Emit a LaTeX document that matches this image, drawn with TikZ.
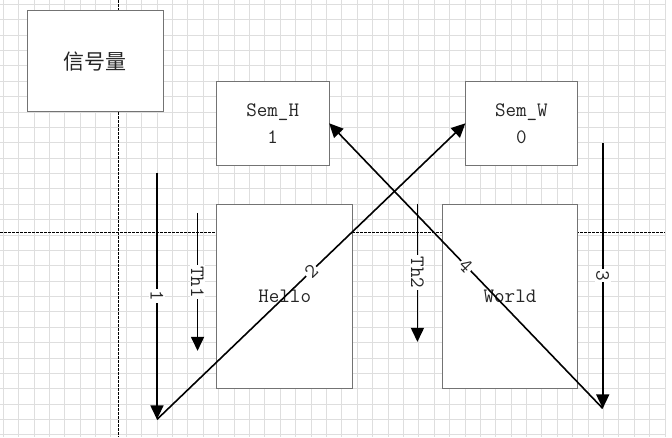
\documentclass[tikz,border=0pt]{standalone}
\usepackage{fontspec}
\newfontfamily\cjkfont{Noto Sans CJK SC}
\usepackage{tikz}
\usetikzlibrary{arrows.meta}

\begin{document}
\begin{tikzpicture}[x = 1pt, y = -1pt,
        gridline/.style = {color = black!13, line width = 0.6pt},
        guide/.style = {color = black, line width = 0.7pt, dash pattern = on 2.5pt off 1.5pt},
        box/.style = {draw = black!55, fill = white, line width = 0.9pt, inner sep = 0pt,
            outer sep = 0pt, text = black!85, align = center,
            font = \ttfamily\fontsize{20.5}{27}\selectfont},
        flow/.style = {color = black, line width = 1.6pt, -{Triangle[length = 14pt, width = 13pt]}},
        lbl/.style = {fill = white, inner sep = 1.5pt, text = black!85,
            font = \ttfamily\fontsize{20.5}{24}\selectfont}]
        \fill[white] (0, 0) rectangle (672, 437);
        \foreach \gx in {0, ..., 43}
            \draw[gridline] ({2.7 + 15.4*\gx}, 0) -- ({2.7 + 15.4*\gx}, 437);
        \foreach \gy in {0, ..., 28}
            \draw[gridline] (0, {3.9 + 15.38*\gy}) -- (665, {3.9 + 15.38*\gy});

        \draw[guide] (118.3, 0) -- (118.3, 437);
        \draw[guide] (0, 231.7) -- (665, 231.7);

        \node[box, minimum width = 136pt, minimum height = 101pt] (signal) at (95, 60.8)
            {\cjkfont\fontsize{21}{24}\selectfont 信号量};
        \node[box, minimum width = 113pt, minimum height = 84pt] (semH) at (272.5, 123) {Sem\_H\\1};
        \node[box, minimum width = 112pt, minimum height = 84pt] (semW) at (521.3, 123) {Sem\_W\\0};
        \node[box, minimum width = 136.5pt, minimum height = 184pt] (hello) at (284.5, 296.3) {Hello};
        \node[box, minimum width = 135.7pt, minimum height = 184pt] (world) at (509.9, 296.3) {World};

        \coordinate (oneTop) at (156.7, 172.3);
        \coordinate (oneEnd) at (156.7, 419.3);
        \coordinate (threeTop) at (602.7, 142.3);
        \coordinate (threeEnd) at (602.7, 408.3);
        \coordinate (thOneTop) at (197.3, 212.7);
        \coordinate (thOneEnd) at (197.3, 350.7);
        \coordinate (thTwoTop) at (417.3, 203.3);
        \coordinate (thTwoEnd) at (417.3, 341.7);

        \draw[flow] (oneTop) -- node[lbl, rotate = -90] {1} (oneEnd);
        \draw[flow] (oneEnd) -- node[lbl, sloped] {2} (semW.west);
        \draw[flow] (threeTop) -- node[lbl, rotate = -90] {3} (threeEnd);
        \draw[flow] (threeEnd) -- node[lbl, sloped] {4} (semH.east);
        \draw[flow] (thOneTop) -- node[lbl, rotate = -90] {Th1} (thOneEnd);
        \draw[flow] (thTwoTop) -- node[lbl, rotate = -90] {Th2} (thTwoEnd);
    \end{tikzpicture}
\end{document}
